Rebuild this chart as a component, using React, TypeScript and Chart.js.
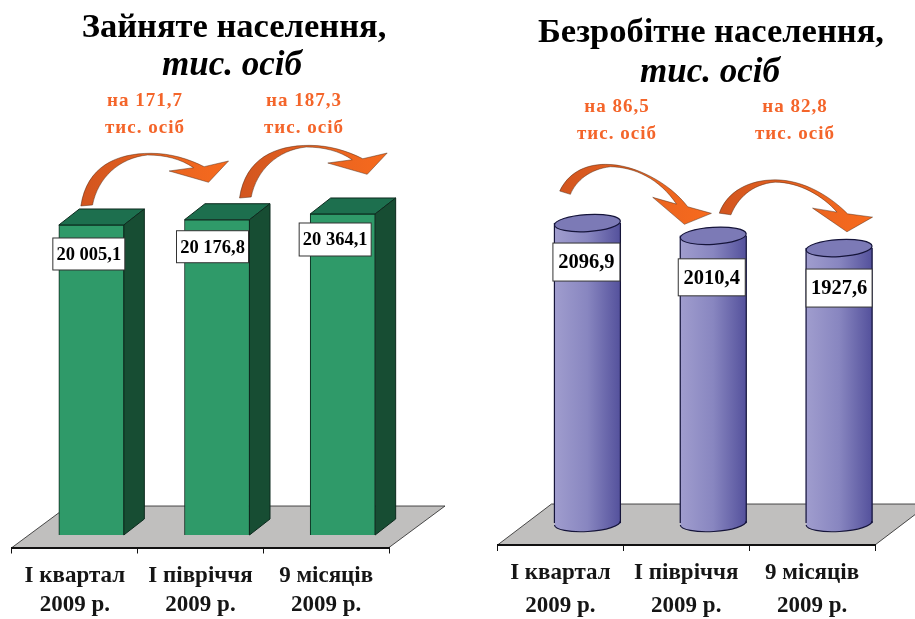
import React, { useEffect, useRef } from "react";
import { Chart, registerables } from "chart.js";

Chart.register(...registerables);

const categories = [["І квартал", "2009 р."], ["І півріччя", "2009 р."], ["9 місяців", "2009 р."]];
const employedValues = [20005.1, 20176.8, 20364.1];
const unemployedValues = [2096.9, 2010.4, 1927.6];
const employedLabels = ["20 005,1", "20 176,8", "20 364,1"];
const unemployedLabels = ["2096,9", "2010,4", "1927,6"];
const employedChanges = ["на 171,7", "на 187,3"];
const unemployedChanges = ["на 86,5", "на 82,8"];
const changeUnit = "тис. осіб";

const SERIF = '"Liberation Serif", serif';
const ORANGE = "#f4652a";

const ARROW_L = "M0 0 C6 -40 36 -52.7 70 -52.7 C90 -52.7 108 -47 123.3 -39.3 L147.7 -45 L127.7 -23.7 L88.3 -35 L112.7 -38.3 C100 -47 84 -51 66.7 -51 C38 -48 17 -28 11.7 -1 Z";
const ARROW_R1 = "M0 0 C8 -17 24 -26.7 45.7 -26.7 C75 -27 110 -8 128 15.7 L151.7 22.3 L124.7 33.3 L93 6.3 L116.7 13 C100 -12 75 -24 50.7 -24.3 C30 -22 16 -10 10.7 3.3 Z";
const ARROW_R2 = "M0 0 C8 -22 30 -33.3 56 -33.3 C85 -33.3 112 -16 128.3 0.7 L153.3 4 L127.7 18.7 L93.3 -5 L117.7 -1 C104 -17 80 -31 56 -31 C32 -29 18 -14 11.7 1.7 Z";

type Panel = {
  left: number; width: number; padL: number; padR: number; axisH: number; lineH: number; tickPad: number;
  min: number; max: number; thickness: number; shift: [number, number]; floor: [number, number];
  values: number[]; labels: string[]; changes: string[]; kind: "box" | "cyl";
  title: string; titleX: number; titleY: number; subX: number; subY: number;
  boxes: { dx: number; dy: number; w: number; h: number; font: number }[];
  notes: { x: number; y1: number; y2: number }[];
  arrows: { path: string; bar: number; ax: number; ay: number }[];
};

const panels: Panel[] = [
  {
    left: 0, width: 450, padL: 12, padR: 61, axisH: 71.5, lineH: 29, tickPad: 8.5,
    min: 9874, max: 24498, thickness: 65, shift: [16.5, -12.5], floor: [56, 41.5],
    values: employedValues, labels: employedLabels, changes: employedChanges, kind: "box",
    title: "Зайняте населення,", titleX: 234, titleY: 28, subX: 232, subY: 66,
    boxes: [
      { dx: -6, dy: 13, w: 72, h: 32, font: 18.5 },
      { dx: -8, dy: 11, w: 72, h: 32, font: 18.5 },
      { dx: -11, dy: 9, w: 72, h: 33, font: 18.5 },
    ],
    notes: [{ x: 145, y1: 101, y2: 128 }, { x: 304, y1: 101, y2: 128 }],
    arrows: [{ path: ARROW_L, bar: 0, ax: 22, ay: -19 }, { path: ARROW_L, bar: 1, ax: 55, ay: -21.7 }],
  },
  {
    left: 450, width: 465, padL: 47.5, padR: 40, axisH: 74, lineH: 33, tickPad: 5.5,
    min: 66, max: 3079, thickness: 66, shift: [27, -22], floor: [54, 41],
    values: unemployedValues, labels: unemployedLabels, changes: unemployedChanges, kind: "cyl",
    title: "Безробітне населення,", titleX: 261, titleY: 33, subX: 260, subY: 73,
    boxes: [
      { dx: -1.5, dy: 20, w: 67, h: 38, font: 20.5 },
      { dx: -2, dy: 23, w: 67, h: 37, font: 20.5 },
      { dx: 0, dy: 21, w: 66, h: 38, font: 20.5 },
    ],
    notes: [{ x: 167, y1: 107, y2: 134 }, { x: 345, y1: 107, y2: 134 }],
    arrows: [{ path: ARROW_R1, bar: 0, ax: 5.3, ay: -32 }, { path: ARROW_R2, bar: 1, ax: 39, ay: -22.7 }],
  },
];

function poly(ctx: CanvasRenderingContext2D, pts: number[][], fill: string, stroke: string, lw = 1) {
  ctx.beginPath();
  pts.forEach((p, i) => (i ? ctx.lineTo(p[0], p[1]) : ctx.moveTo(p[0], p[1])));
  ctx.closePath();
  ctx.fillStyle = fill;
  ctx.fill();
  ctx.strokeStyle = stroke;
  ctx.lineWidth = lw;
  ctx.stroke();
}

function cylGradient(ctx: CanvasRenderingContext2D, x0: number, x1: number) {
  const g = ctx.createLinearGradient(x0, 0, x1, 0);
  g.addColorStop(0, "#a09dce");
  g.addColorStop(0.5, "#8886c0");
  g.addColorStop(1, "#54519c");
  return g;
}

function makePlugin(p: Panel) {
  const RY = 8.5;
  const TILT = -0.06;
  return {
    id: "scene" + p.left,
    beforeDraw(chart: any) {
      const { ctx, chartArea: a } = chart;
      const [dx, dy] = p.floor;
      poly(ctx, [[a.left, a.bottom], [a.right, a.bottom], [a.right + dx, a.bottom - dy], [a.left + dx, a.bottom - dy]], "#c0bfbe", "#222", 0.8);
    },
    beforeDatasetDraw(chart: any) {
      const { ctx } = chart;
      ctx.save();
      ctx.translate(p.shift[0], p.shift[1]);
      for (const el of chart.getDatasetMeta(0).data) {
        const x0 = el.x - el.width / 2;
        const x1 = el.x + el.width / 2;
        if (p.kind === "box") {
          const dx = 20.5, dy = 16;
          poly(ctx, [[x0, el.y], [x0 + dx, el.y - dy], [x1 + dx, el.y - dy], [x1, el.y]], "#1d6f4e", "#0d2a1e");
          poly(ctx, [[x1, el.y], [x1 + dx, el.y - dy], [x1 + dx, el.base - dy], [x1, el.base]], "#174d33", "#0d2a1e");
        } else {
          ctx.beginPath();
          ctx.ellipse(el.x, el.base, el.width / 2, RY, TILT, 0, Math.PI * 2);
          ctx.fillStyle = cylGradient(ctx, x0, x1);
          ctx.fill();
        }
      }
    },
    afterDatasetDraw(chart: any) {
      const { ctx } = chart;
      if (p.kind === "cyl") {
        for (const el of chart.getDatasetMeta(0).data) {
          const r = el.width / 2;
          ctx.strokeStyle = "#15143a";
          ctx.lineWidth = 1.2;
          ctx.beginPath();
          ctx.moveTo(el.x - r, el.y);
          ctx.lineTo(el.x - r, el.base);
          ctx.moveTo(el.x + r, el.y);
          ctx.lineTo(el.x + r, el.base);
          ctx.stroke();
          ctx.beginPath();
          ctx.ellipse(el.x, el.base, r, RY, TILT, 0, Math.PI);
          ctx.stroke();
          ctx.beginPath();
          ctx.ellipse(el.x, el.y, r, RY, TILT, 0, Math.PI * 2);
          ctx.fillStyle = "#7c7ab6";
          ctx.fill();
          ctx.stroke();
        }
      }
      ctx.restore();
    },
    afterDatasetsDraw(chart: any) {
      const { ctx } = chart;
      const els = chart.getDatasetMeta(0).data;
      const [sx, sy] = p.shift;
      // value boxes
      els.forEach((el: any, i: number) => {
        const b = p.boxes[i];
        const x = el.x - el.width / 2 + sx + b.dx;
        const y = el.y + sy + b.dy;
        ctx.fillStyle = "#fff";
        ctx.strokeStyle = "#333";
        ctx.lineWidth = 1;
        ctx.fillRect(x, y, b.w, b.h);
        ctx.strokeRect(x, y, b.w, b.h);
        ctx.fillStyle = "#000";
        ctx.font = `bold ${b.font}px ${SERIF}`;
        ctx.textAlign = "center";
        ctx.textBaseline = "middle";
        ctx.fillText(p.labels[i], x + b.w / 2, y + b.h / 2 + 1);
      });
      // arrows
      p.arrows.forEach((ar) => {
        const el = els[ar.bar];
        const ox = el.x - el.width / 2 + sx + ar.ax;
        const oy = el.y + sy + ar.ay;
        ctx.save();
        ctx.translate(ox, oy);
        const g = ctx.createLinearGradient(0, 0, 150, 0);
        g.addColorStop(0, "#d2551f");
        g.addColorStop(0.6, "#ea6420");
        g.addColorStop(1, "#f76a1d");
        const path = new Path2D(ar.path);
        ctx.fillStyle = g;
        ctx.fill(path);
        ctx.strokeStyle = "rgba(70,35,15,0.65)";
        ctx.lineWidth = 0.7;
        ctx.stroke(path);
        ctx.restore();
      });
      // change notes
      ctx.fillStyle = ORANGE;
      ctx.textAlign = "center";
      ctx.textBaseline = "middle";
      ctx.font = `bold 19px ${SERIF}`;
      (ctx as any).letterSpacing = "1px";
      p.notes.forEach((n, i) => {
        ctx.fillText(p.changes[i], n.x, n.y1);
        ctx.fillText(changeUnit, n.x, n.y2);
      });
      (ctx as any).letterSpacing = "0px";
      // titles
      ctx.fillStyle = "#000";
      ctx.font = `bold 34.5px ${SERIF}`;
      ctx.fillText(p.title, p.titleX, p.titleY);
      ctx.font = `italic bold 35px ${SERIF}`;
      ctx.fillText(changeUnit, p.subX, p.subY);
    },
  };
}

function PanelChart({ p }: { p: Panel }) {
  const ref = useRef<HTMLCanvasElement>(null);
  useEffect(() => {
    const chart = new Chart(ref.current as HTMLCanvasElement, {
      type: "bar",
      data: {
        labels: categories as any,
        datasets: [
          {
            data: p.values,
            base: p.min,
            barThickness: p.thickness,
            clip: false as any,
            borderWidth: p.kind === "box" ? 1 : 0,
            borderColor: "#0d2a1e",
            backgroundColor:
              p.kind === "box"
                ? "#2f9a69"
                : (c: any) => {
                    const xs = c.chart.scales.x;
                    const cx = c.dataIndex === undefined || !xs ? NaN : xs.getPixelForValue(c.dataIndex);
                    if (!Number.isFinite(cx)) return "#8886c0";
                    return cylGradient(c.chart.ctx, cx - p.thickness / 2, cx + p.thickness / 2);
                  },
          } as any,
        ],
      },
      options: {
        animation: false,
        responsive: false,
        events: [],
        layout: { padding: { left: p.padL, right: p.padR, top: 100, bottom: 0 } },
        plugins: { legend: { display: false }, tooltip: { enabled: false } },
        scales: {
          y: { display: false, min: p.min, max: p.max },
          x: {
            afterFit: (s: any) => {
              s.height = p.axisH;
            },
            border: { display: true, color: "#111", width: 2 },
            grid: { drawOnChartArea: false, tickLength: 6, tickColor: "#111", tickWidth: 1 },
            ticks: {
              autoSkip: false,
              maxRotation: 0,
              padding: p.tickPad,
              color: "#151515",
              font: { family: SERIF, weight: "bold", size: 23, lineHeight: p.lineH / 23 },
            },
          },
        },
      },
      plugins: [makePlugin(p) as any],
    });
    return () => chart.destroy();
  }, [p]);
  return (
    <canvas
      ref={ref}
      width={p.width}
      height={619}
      style={{ position: "absolute", left: p.left, top: 0, width: p.width, height: 619, display: "block", filter: "blur(0.4px)" }}
    />
  );
}

export default function App() {
  return (
    <div style={{ position: "fixed", left: 0, top: 0, width: 915, height: 619, background: "#fff", overflow: "hidden" }}>
      {panels.map((p) => (
        <PanelChart key={p.left} p={p} />
      ))}
    </div>
  );
}
